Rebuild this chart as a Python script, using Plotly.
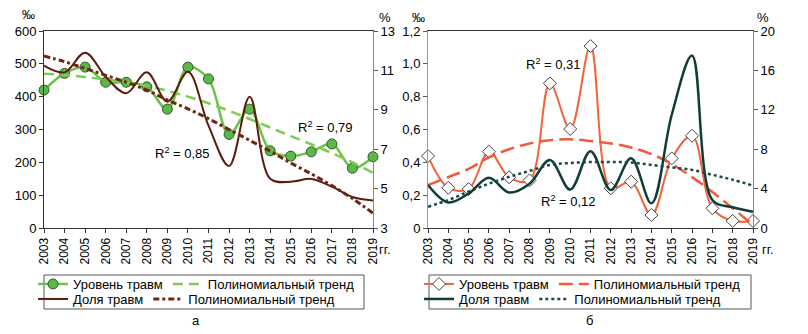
import plotly.graph_objects as go

years = list(range(2003, 2020))
year_labels = [str(y) for y in years]

# Chart "а"
a_level = [420, 471, 490, 444, 444, 430, 362, 490, 454, 285, 362, 235, 219, 232, 256, 182, 217]
a_level_trend = [470, 466, 460, 452, 444, 433, 418, 400, 380, 357, 332, 306, 280, 255, 228, 200, 168]
a_share = [11.24, 10.9, 11.9, 10.68, 9.84, 10.9, 9.41, 10.93, 8.2, 6.15, 9.66, 5.5, 5.35, 5.49, 5.1, 4.57, 4.4]
a_share_trend = [11.73, 11.44, 11.1, 10.75, 10.4, 10.0, 9.5, 9.05, 8.55, 8.0, 7.45, 6.9, 6.3, 5.75, 5.15, 4.5, 3.75]

# Chart "б"
b_level = [0.438, 0.245, 0.237, 0.465, 0.309, 0.29, 0.881, 0.603, 1.108, 0.242, 0.282, 0.079, 0.424, 0.562, 0.12, 0.043, 0.043]
b_level_trend = [0.262, 0.31, 0.36, 0.43, 0.48, 0.515, 0.535, 0.54, 0.53, 0.515, 0.49, 0.45, 0.39, 0.31, 0.22, 0.12, 0.02]
b_share = [4.37, 2.6, 3.5, 5.1, 3.6, 4.5, 6.9, 3.9, 7.8, 3.86, 7.07, 2.5, 11.5, 17.5, 2.84, 2.1, 1.65]
b_share_trend = [2.16, 2.84, 3.7, 4.5, 5.2, 5.8, 6.4, 6.6, 6.7, 6.7, 6.65, 6.4, 6.15, 5.9, 5.4, 4.9, 4.3]

a_left_ticks = [0, 100, 200, 300, 400, 500, 600]
a_right_ticks = [3, 5, 7, 9, 11, 13]
b_left_ticks = [0, 0.2, 0.4, 0.6, 0.8, 1.0, 1.2]
b_left_labels = ["0", "0,2", "0,4", "0,6", "0,8", "1,0", "1,2"]
b_right_ticks = [0, 4, 8, 12, 16, 20]

W, H = 808, 334
FONT = "Liberation Sans, Arial, sans-serif"


def px(x):
    return x / W


def py(y):
    return (H - y) / H


GREEN = "#6cc24a"
GREEN_TREND = "#7dcc52"
BROWN = "#5a1d0e"
BROWN_TREND = "#6e2614"
ORANGE = "#f4623a"
ORANGE_TREND = "#f25a3c"
TEAL = "#0f3d38"
TEAL_TREND = "#1b4a44"

fig = go.Figure()

# ---- chart a ----
fig.add_trace(go.Scatter(
    x=years, y=a_level, name="Уровень травм", mode="lines+markers",
    line=dict(color=GREEN, width=2.5, shape="spline", smoothing=1),
    marker=dict(symbol="circle", size=10, color="#5cb848", line=dict(color="#2e5a22", width=1)),
    xaxis="x", yaxis="y", legend="legend", cliponaxis=False))
fig.add_trace(go.Scatter(
    x=years, y=a_level_trend, name="Полиномиальный тренд", mode="lines",
    line=dict(color=GREEN_TREND, width=2.5, dash="10px,6px", shape="spline"),
    xaxis="x", yaxis="y", legend="legend"))
fig.add_trace(go.Scatter(
    x=years, y=a_share, name="Доля травм", mode="lines",
    line=dict(color=BROWN, width=2, shape="spline", smoothing=1),
    xaxis="x", yaxis="y2", legend="legend2"))
fig.add_trace(go.Scatter(
    x=years, y=a_share_trend, name="Полиномиальный тренд", mode="lines",
    line=dict(color=BROWN_TREND, width=3, dash="6px,3px,3px,3px", shape="spline"),
    xaxis="x", yaxis="y2", legend="legend2"))

# ---- chart b ----
fig.add_trace(go.Scatter(
    x=years, y=b_level, name="Уровень травм", mode="lines+markers",
    line=dict(color=ORANGE, width=2, shape="spline", smoothing=1),
    marker=dict(symbol="diamond", size=10, color="white", line=dict(color="#444444", width=1)),
    xaxis="x2", yaxis="y3", legend="legend3", cliponaxis=False))
fig.add_trace(go.Scatter(
    x=years, y=b_level_trend, name="Полиномиальный тренд", mode="lines",
    line=dict(color=ORANGE_TREND, width=2.5, dash="14px,6px", shape="spline"),
    xaxis="x2", yaxis="y3", legend="legend3"))
fig.add_trace(go.Scatter(
    x=years, y=b_share, name="Доля травм", mode="lines",
    line=dict(color=TEAL, width=2.5, shape="spline", smoothing=1),
    xaxis="x2", yaxis="y4", legend="legend4", cliponaxis=False))
fig.add_trace(go.Scatter(
    x=years, y=b_share_trend, name="Полиномиальный тренд", mode="lines",
    line=dict(color=TEAL_TREND, width=2.5, dash="3px,3px", shape="spline"),
    xaxis="x2", yaxis="y4", legend="legend4"))

tickfont = dict(family=FONT, size=13, color="black")
xcommon = dict(range=[2003, 2019], tickvals=years, ticktext=year_labels, tickangle=-90,
               ticks="outside", ticklen=4, tickcolor="#333", showline=True, linecolor="#333",
               linewidth=1, mirror=True, showgrid=False, zeroline=False,
               tickfont=dict(family=FONT, size=12, color="black"))
ycommon = dict(ticks="outside", ticklen=4, showline=True, linewidth=1, showgrid=False,
               zeroline=False, tickfont=tickfont)

ydom = [py(228), py(31)]

legend_common = dict(orientation="h", bgcolor="rgba(0,0,0,0)", borderwidth=0,
                     font=dict(family=FONT, size=13, color="black"),
                     xanchor="left", yanchor="middle", itemwidth=30, tracegroupgap=0)

fig.update_layout(
    width=W, height=H, margin=dict(l=0, r=0, t=0, b=0, autoexpand=False),
    paper_bgcolor="white", plot_bgcolor="white",
    font=dict(family=FONT, size=13, color="black"),
    xaxis=dict(domain=[px(44), px(373)], anchor="y", **xcommon),
    yaxis=dict(domain=ydom, anchor="x", range=[0, 600], tickvals=a_left_ticks,
               linecolor="#333", tickcolor="#333", **ycommon),
    yaxis2=dict(overlaying="y", side="right", anchor="x", range=[3, 13], tickvals=a_right_ticks,
                linecolor="#888", tickcolor="#555", **ycommon),
    xaxis2=dict(domain=[px(428), px(753)], anchor="y3", **xcommon),
    yaxis3=dict(domain=ydom, anchor="x2", range=[0, 1.2], tickvals=b_left_ticks,
                ticktext=b_left_labels, linecolor="#999", tickcolor="#555", **ycommon),
    yaxis4=dict(overlaying="y3", side="right", anchor="x2", range=[0, 20], tickvals=b_right_ticks,
                linecolor="#888", tickcolor="#555", **ycommon),
    legend=dict(x=px(33), y=py(284), **legend_common),
    legend2=dict(x=px(33), y=py(299), **legend_common),
    legend3=dict(x=px(419), y=py(284), **legend_common),
    legend4=dict(x=px(419), y=py(299), **legend_common),
    showlegend=True,
)

shapes = [
    dict(type="rect", xref="paper", yref="paper", x0=px(44), x1=px(364), y0=py(309), y1=py(275),
         line=dict(color="#555", width=1)),
    dict(type="rect", xref="paper", yref="paper", x0=px(429), x1=px(751), y0=py(309), y1=py(275),
         line=dict(color="#555", width=1)),
]
fig.update_layout(shapes=shapes)

ann_font = dict(family=FONT, size=13, color="black")


def ann(text, x, y, xanchor="center"):
    return dict(text=text, x=px(x), y=py(y), xref="paper", yref="paper", showarrow=False,
                xanchor=xanchor, yanchor="middle", font=ann_font)


annotations = [
    ann("‰", 29, 15),
    ann("%", 385, 17),
    ann("‰", 418, 17),
    ann("%", 763, 17),
    ann("гг.", 377, 249, "left"),
    ann("гг.", 760, 249, "left"),
    ann("R<sup>2</sup> = 0,85", 153, 153, "left"),
    ann("R<sup>2</sup> = 0,79", 296, 127, "left"),
    ann("R<sup>2</sup> = 0,31", 524, 64, "left"),
    ann("R<sup>2</sup> = 0,12", 539, 201, "left"),
    ann("а", 196, 320),
    ann("б", 589, 320),
]
fig.update_layout(annotations=annotations)

fig.write_html("out.html")
